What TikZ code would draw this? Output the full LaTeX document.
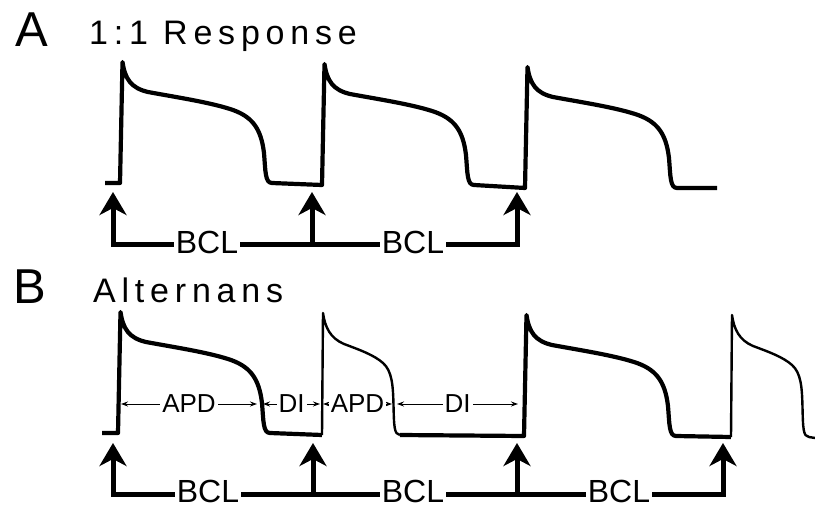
\documentclass[tikz,border=0pt]{standalone}
\usepackage{fontspec}
\setmainfont{Liberation Sans}
\newfontfamily\ttlfont[LetterSpace=17]{Liberation Sans}
\usetikzlibrary{arrows.meta}
% long action potential: foot at (#1,#2) in pixel coordinates
\newcommand\aplong[2]{-- (#1,#2) -- ({#1+2.5},{#2-121})
  .. controls ({#1+5},{#2-104}) and ({#1+11},{#2-95}) .. ({#1+28},{#2-91})
  .. controls ({#1+55},{#2-86}) and ({#1+88},{#2-81}) .. ({#1+110},{#2-74})
  .. controls ({#1+132},{#2-67}) and ({#1+141},{#2-55}) .. ({#1+144},{#2-30})
  .. controls ({#1+145.5},{#2-12}) and ({#1+145},{#2}) .. ({#1+152},{#2})}
% short action potential
\newcommand\apshort[2]{(#1,#2) -- ({#1+1},{#2-122})
  .. controls ({#1+3},{#2-108}) and ({#1+8},{#2-97}) .. ({#1+22},{#2-91})
  .. controls ({#1+38},{#2-85}) and ({#1+52},{#2-80}) .. ({#1+61},{#2-72})
  .. controls ({#1+70},{#2-64}) and ({#1+71},{#2-50}) .. ({#1+71.5},{#2-30})
  .. controls ({#1+72},{#2-10}) and ({#1+72},{#2}) .. ({#1+78},{#2})}
\tikzset{bigtip/.tip={Stealth[length=23pt,width=27pt,inset=7pt]},
  smalltip/.tip={Stealth[length=7pt,width=5pt]}}
\begin{document}
\begin{tikzpicture}[x=1pt,y=-1pt,
  apthick/.style={line width=4.2pt, line join=round},
  apthin/.style={line width=2.4pt, line join=round},
  stim/.style={line width=5pt, line join=miter},
  bcl/.style={font=\fontsize{32}{32}\selectfont, fill=white, inner sep=2pt},
  span/.style={line width=1pt, {smalltip}-{smalltip}},
  spanlbl/.style={font=\fontsize{26}{26}\selectfont, fill=white, inner sep=2pt},
  panel/.style={font=\fontsize{49}{49}\selectfont, inner sep=0pt, anchor=base west},
  ttl/.style={font=\ttlfont\fontsize{34}{34}\selectfont, inner sep=0pt, anchor=base west}]
\useasboundingbox (0,0) rectangle (815,508);

% ---------- Panel A ----------
\node[panel] (pA) at (15,47) {A};
\node[ttl] (tA) at (89,45) {1:1 Response};
\draw[apthick] (105,183) \aplong{120}{183} \aplong{322}{185} \aplong{525}{188} -- (717,188);

\coordinate (a1t) at (113,192); \coordinate (a1c) at (113,245);
\coordinate (a2t) at (312,192); \coordinate (a2c) at (312,245);
\coordinate (a3t) at (517,192); \coordinate (a3c) at (517,245);
\draw[stim, {bigtip}-{bigtip}] (a1t) -- (a1c) -- (a3c) -- (a3t);
\draw[stim, -{bigtip}] (a2c) -- (a2t);
\node[bcl] (bclA1) at (207,242) {BCL};
\node[bcl] (bclA2) at (413,242) {BCL};

% ---------- Panel B ----------
\node[panel] (pB) at (13,303) {B};
\node[ttl] (tB) at (93,302) {Alternans};
\draw[apthick] (102,433) \aplong{118}{433} -- (322,435);
\draw[apthin] \apshort{322}{435};
\draw[apthick] (400,435) \aplong{524}{436} -- (731,437);
\draw[apthin] \apshort{731}{437} -- (815,438);

\coordinate (s1) at (121,404); \coordinate (s2) at (257,404);
\coordinate (s3) at (263,404); \coordinate (s4) at (320,404);
\coordinate (s5) at (323,404); \coordinate (s6) at (392,404);
\coordinate (s7) at (397,404); \coordinate (s8) at (518,404);
\draw[span] (s1) -- node[spanlbl] (apd1) {APD} (s2);
\draw[span] (s3) -- node[spanlbl] (di1) {DI} (s4);
\draw[span] (s5) -- node[spanlbl] (apd2) {APD} (s6);
\draw[span] (s7) -- node[spanlbl] (di2) {DI} (s8);

\coordinate (b1t) at (113,443); \coordinate (b1c) at (113,494);
\coordinate (b2t) at (313,443); \coordinate (b2c) at (313,494);
\coordinate (b3t) at (517,443); \coordinate (b3c) at (517,494);
\coordinate (b4t) at (723,443); \coordinate (b4c) at (723,494);
\draw[stim, {bigtip}-{bigtip}] (b1t) -- (b1c) -- (b4c) -- (b4t);
\draw[stim, -{bigtip}] (b2c) -- (b2t);
\draw[stim, -{bigtip}] (b3c) -- (b3t);
\node[bcl] (bclB1) at (208,491) {BCL};
\node[bcl] (bclB2) at (413,491) {BCL};
\node[bcl] (bclB3) at (619,491) {BCL};
\end{tikzpicture}
\end{document}
